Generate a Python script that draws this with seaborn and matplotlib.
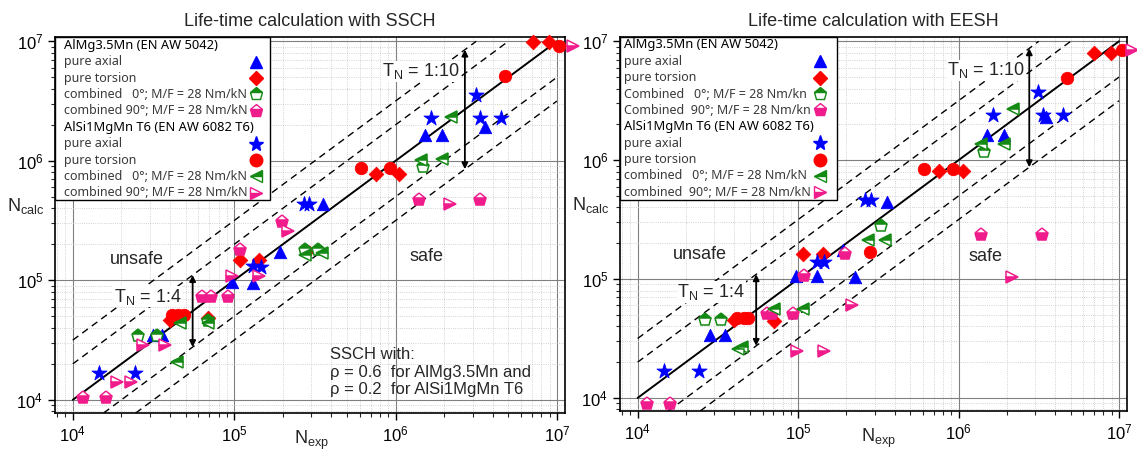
"""
Life-time calculation: N_calc against N_exp for SSCH and EESH

Two log-log scatter panels with the 1:4 and 1:10 scatter bands.
"""

## Import packages
import numpy as np
import matplotlib
matplotlib.use('Agg')
import matplotlib.pyplot as plt
import matplotlib.ticker as mticker
from matplotlib.patches import Rectangle
import seaborn as sns


## Data (cycles)
# SSCH panel - AlMg3.5Mn
ssch_almg_axial_x = [3.57e6, 1.53e6, 1.93e6, 3.53e5, 1.91e5, 1.31e5, 9.7e4, 3.15e4, 3.56e4]
ssch_almg_axial_y = [1.9e6, 1.65e6, 1.65e6, 4.35e5, 1.74e5, 9.5e4, 9.7e4, 3.5e4, 3.5e4]
ssch_almg_tors_x = [7.06e6, 8.87e6, 7.6e5, 1.05e6, 1.09e5, 1.42e5, 4.0e4, 6.92e4]
ssch_almg_tors_y = [9.95e6, 9.95e6, 7.8e5, 7.8e5, 1.49e5, 1.49e5, 4.67e4, 4.83e4]
ssch_almg_c0_x = [1.47e6, 3.31e5, 2.76e5, 2.55e4, 3.31e4, 6.9e4]
ssch_almg_c0_y = [8.95e5, 1.8e5, 1.8e5, 3.39e4, 3.39e4, 4.58e4]
ssch_almg_c90_x = [1.09e5, 1.98e5, 6.3e4, 7.2e4, 9.2e4, 1.15e4, 1.6e4, 1.4e6, 3.33e6]
ssch_almg_c90_y = [1.8e5, 3.05e5, 7.3e4, 7.3e4, 7.3e4, 1.03e4, 1.03e4, 4.72e5, 4.72e5]
# SSCH panel - AlSi1MgMn T6
ssch_alsi_axial_x = [3.17e6, 1.65e6, 3.34e6, 4.49e6, 2.69e5, 2.92e5, 1.31e5, 1.47e5, 1.45e4, 2.43e4]
ssch_alsi_axial_y = [3.52e6, 2.3e6, 2.3e6, 2.3e6, 4.35e5, 4.35e5, 1.33e5, 1.3e5, 1.69e4, 1.69e4]
ssch_alsi_tors_x = [1.03e7, 4.78e6, 6.07e5, 9.18e5, 2.79e5, 4.1e4, 4.5e4, 4.9e4]
ssch_alsi_tors_y = [9.05e6, 5.14e6, 8.7e5, 8.7e5, 1.77e5, 5.1e4, 5.1e4, 5.1e4]
ssch_alsi_c0_x = [2.22e6, 1.43e6, 1.95e6, 2.76e5, 3.51e5, 4.62e4, 6.9e4, 4.4e4]
ssch_alsi_c0_y = [2.32e6, 1.01e6, 1.03e6, 1.63e5, 1.69e5, 4.38e4, 4.4e4, 2.09e4]
ssch_alsi_c90_x = [1.25e7, 2.16e6, 2.17e5, 1.43e5, 9.7e4, 2.71e4, 3.73e4, 1.87e4, 2.29e4]
ssch_alsi_c90_y = [9.05e6, 4.37e5, 2.61e5, 1.08e5, 1.08e5, 2.88e4, 2.88e4, 1.42e4, 1.42e4]

# EESH panel - AlMg3.5Mn
eesh_almg_axial_x = [3.53e6, 1.51e6, 1.93e6, 3.56e5, 1.91e5, 2.26e5, 9.7e4, 1.31e5, 2.84e4, 3.52e4]
eesh_almg_axial_y = [2.31e6, 1.62e6, 1.62e6, 4.47e5, 1.75e5, 1.05e5, 1.06e5, 1.06e5, 3.38e4, 3.38e4]
eesh_almg_tors_x = [7.0e6, 8.87e6, 7.51e5, 1.06e6, 1.08e5, 1.42e5, 3.96e4, 7.03e4]
eesh_almg_tors_y = [8.0e6, 8.0e6, 8.13e5, 8.1e5, 1.61e5, 1.61e5, 4.52e4, 4.47e4]
eesh_almg_c0_x = [1.44e6, 3.31e5, 2.62e4, 3.33e4]
eesh_almg_c0_y = [1.17e6, 2.79e5, 4.52e4, 4.52e4]
eesh_almg_c90_x = [1.38e6, 3.29e6, 1.96e5, 1.09e5, 6.4e4, 6.9e4, 9.35e4, 1.15e4, 1.59e4]
eesh_almg_c90_y = [2.34e5, 2.34e5, 1.64e5, 1.06e5, 5.05e4, 5.05e4, 5.05e4, 8.85e3, 8.85e3]
# EESH panel - AlSi1MgMn T6
eesh_alsi_axial_x = [3.15e6, 1.63e6, 3.34e6, 4.45e6, 2.61e5, 2.84e5, 1.31e5, 1.46e5, 1.46e4, 2.4e4]
eesh_alsi_axial_y = [3.75e6, 2.42e6, 2.42e6, 2.39e6, 4.61e5, 4.61e5, 1.4e5, 1.4e5, 1.69e4, 1.69e4]
eesh_alsi_tors_x = [1.04e7, 4.73e6, 6.08e5, 9.22e5, 2.8e5, 4.16e4, 4.57e4, 4.9e4]
eesh_alsi_tors_y = [8.4e6, 4.92e6, 8.51e5, 8.5e5, 1.68e5, 4.73e4, 4.73e4, 4.73e4]
eesh_alsi_c0_x = [2.17e6, 1.38e6, 1.93e6, 2.73e5, 3.47e5, 7.03e4, 1.08e5, 4.47e4, 4.24e4]
eesh_alsi_c0_y = [2.72e6, 1.38e6, 1.38e6, 2.13e5, 2.13e5, 5.56e4, 5.56e4, 2.7e4, 2.58e4]
eesh_alsi_c90_x = [1.2e7, 2.16e6, 2.16e5, 9.8e4, 1.44e5]
eesh_alsi_c90_y = [8.5e6, 1.05e5, 6.1e4, 2.48e4, 2.48e4]

# Scatter band factors (T_N = 1:4 -> 2, T_N = 1:10 -> sqrt(10))
band_factors = [2.0, np.sqrt(10)]
band_labels = ["1:4", "1:10"]

# Legend labels
ssch_labels = ["AlMg3.5Mn (EN AW 5042)", "pure axial", "pure torsion",
               "combined   0°; M/F = 28 Nm/kN", "combined 90°; M/F = 28 Nm/kN",
               "AlSi1MgMn T6 (EN AW 6082 T6)", "pure axial", "pure torsion",
               "combined   0°; M/F = 28 Nm/kN", "combined 90°; M/F = 28 Nm/kN"]
eesh_labels = ["AlMg3.5Mn (EN AW 5042)", "pure axial", "pure torsion",
               "Combined   0°; M/F = 28 Nm/kn", "Combined  90°; M/F = 28 Nm/kn",
               "AlSi1MgMn T6 (EN AW 6082 T6)", "pure axial", "pure torsion",
               "combined   0°; M/F = 28 Nm/kN", "combined  90°; M/F = 28 Nm/kN"]


## Define parameters for figure
BLUE = '#0000FF'
RED = '#FF0000'
GREEN = '#148A14'
PINK = '#F01C8C'

n_lo, n_hi = 1e4, 1e7
xlim = (10**3.89, 10**7.05)
ylim = (10**3.89, 10**7.036)

big = 13
medium = 12
small = 9.0
small_bold = 9.3

# Marker style per series (marker, colour, size, fillstyle)
styles = {'almg_axial': ('^', BLUE, 9, 'full'),
          'almg_tors': ('D', RED, 7.5, 'full'),
          'almg_c0': ('p', GREEN, 9.5, 'top'),
          'almg_c90': ('p', PINK, 9.5, 'bottom'),
          'alsi_axial': ('*', BLUE, 11, 'full'),
          'alsi_tors': ('o', RED, 9, 'full'),
          'alsi_c0': ('<', GREEN, 9, 'top'),
          'alsi_c90': ('>', PINK, 9, 'bottom')}
legend_keys = [None, 'almg_axial', 'almg_tors', 'almg_c0', 'almg_c90',
               None, 'alsi_axial', 'alsi_tors', 'alsi_c0', 'alsi_c90']

sns.set_theme(style='ticks')
plt.rcParams['font.family'] = ['Liberation Sans', 'DejaVu Sans']
plt.rcParams['mathtext.default'] = 'regular'


def draw_legend(ax, labels, box_right, box_bottom, text_x, marker_x, row_top, row_step):
    ax.add_patch(Rectangle((0, box_bottom), box_right, 1 - box_bottom, transform=ax.transAxes,
                           facecolor='white', edgecolor='black', lw=1.0, zorder=8, clip_on=False))
    for i, (lab, key) in enumerate(zip(labels, legend_keys)):
        y = row_top - i * row_step
        if key is None:
            ax.text(text_x, y, lab, transform=ax.transAxes, fontsize=small_bold, family='Noto Sans',
                    fontweight='bold', color='black', ha='left', va='center', zorder=9)
            continue
        ax.text(text_x, y, lab, transform=ax.transAxes, fontsize=small, family='Noto Sans',
                color='#3a3a3a', ha='left', va='center', zorder=9)
        m, c, ms, fs = styles[key]
        ax.plot([marker_x], [y], transform=ax.transAxes, ls='none', marker=m, ms=ms, fillstyle=fs,
                mfc=c, mfcalt='white', mec=c, mew=1, zorder=9, clip_on=False)


def draw_panel(ax, series, title, arrow_x, tn_text_pos, unsafe_pos, safe_pos):
    ax.set_xscale('log')
    ax.set_yscale('log')
    ax.set_xlim(*xlim)
    ax.set_ylim(*ylim)

    # Grid lines
    ax.grid(which='major', color='#808080', lw=0.8, ls='-', zorder=0)
    ax.grid(which='minor', color='#c4c4c4', lw=0.6, ls=':', zorder=0)
    for axis in (ax.xaxis, ax.yaxis):
        axis.set_major_locator(mticker.LogLocator(base=10, numticks=10))
        axis.set_minor_locator(mticker.LogLocator(base=10, subs=range(2, 10), numticks=20))
        axis.set_minor_formatter(mticker.NullFormatter())
    ax.tick_params(which='major', direction='out', length=5, width=1, labelsize=medium, colors='black')
    ax.tick_params(which='minor', direction='out', length=3, width=0.8)
    for sp in ax.spines.values():
        sp.set_color('black')
        sp.set_linewidth(1.2)

    # 1:1 line and scatter bands
    ax.plot([n_lo, n_hi], [n_lo, n_hi], color='black', lw=1.4, zorder=2)
    for k in band_factors:
        ax.plot([n_lo, n_hi / k], [n_lo * k, n_hi], color='black', lw=1, ls=(0, (5, 3.5)), zorder=2)
        ax.plot([ylim[0] * k, n_hi], [ylim[0], n_hi / k], color='black', lw=1, ls=(0, (5, 3.5)), zorder=2)

    # Band arrows and labels
    for xa, k, lab, (tx, ty) in zip(arrow_x, band_factors, band_labels, tn_text_pos):
        ax.annotate('', xy=(xa, xa * k), xytext=(xa, xa / k),
                    arrowprops=dict(arrowstyle='<|-|>', color='black', lw=1.3,
                                    mutation_scale=9, shrinkA=0, shrinkB=0), zorder=3)
        ax.text(tx, ty, r'T$_{N}$ = ' + lab, fontsize=big, ha='left', va='center', zorder=3,
                bbox=dict(facecolor='white', edgecolor='none', pad=0.5))

    ax.text(*unsafe_pos, "unsafe", fontsize=big, ha='center', va='center')
    ax.text(*safe_pos, "safe", fontsize=big, ha='center', va='center')

    # Full markers with seaborn
    for key, s in [('almg_axial', 80), ('almg_tors', 55), ('alsi_axial', 130), ('alsi_tors', 80)]:
        m, c, ms, fs = styles[key]
        sns.scatterplot(x=series[key][0], y=series[key][1], ax=ax, marker=m, color=c, s=s,
                        edgecolor=c, linewidth=0.6, zorder=5, clip_on=False)

    # Half-filled markers
    for key in ['almg_c0', 'almg_c90', 'alsi_c0', 'alsi_c90']:
        m, c, ms, fs = styles[key]
        ax.plot(series[key][0], series[key][1], ls='none', marker=m, ms=ms, fillstyle=fs,
                mfc=c, mfcalt='white', mec=c, mew=1.1, zorder=5, clip_on=False)

    ax.set_title(title, fontsize=big, pad=8)
    ax.set_xlabel(r'N$_{exp}$', fontsize=big, va='top')
    ax.set_ylabel(r'N$_{calc}$', fontsize=big, rotation=0, ha='center', va='center')
    ax.yaxis.set_label_coords(-0.057, 0.55)


## Create figure
fig = plt.figure(figsize=(11.37, 4.5), dpi=100)
ax1 = fig.add_axes([0.0484, 0.0822, 0.4485, 0.8356])
ax2 = fig.add_axes([0.5453, 0.0867, 0.4459, 0.8310])

ssch = {'almg_axial': (ssch_almg_axial_x, ssch_almg_axial_y),
        'almg_tors': (ssch_almg_tors_x, ssch_almg_tors_y),
        'almg_c0': (ssch_almg_c0_x, ssch_almg_c0_y),
        'almg_c90': (ssch_almg_c90_x, ssch_almg_c90_y),
        'alsi_axial': (ssch_alsi_axial_x, ssch_alsi_axial_y),
        'alsi_tors': (ssch_alsi_tors_x, ssch_alsi_tors_y),
        'alsi_c0': (ssch_alsi_c0_x, ssch_alsi_c0_y),
        'alsi_c90': (ssch_alsi_c90_x, ssch_alsi_c90_y)}
eesh = {'almg_axial': (eesh_almg_axial_x, eesh_almg_axial_y),
        'almg_tors': (eesh_almg_tors_x, eesh_almg_tors_y),
        'almg_c0': (eesh_almg_c0_x, eesh_almg_c0_y),
        'almg_c90': (eesh_almg_c90_x, eesh_almg_c90_y),
        'alsi_axial': (eesh_alsi_axial_x, eesh_alsi_axial_y),
        'alsi_tors': (eesh_alsi_tors_x, eesh_alsi_tors_y),
        'alsi_c0': (eesh_alsi_c0_x, eesh_alsi_c0_y),
        'alsi_c90': (eesh_alsi_c90_x, eesh_alsi_c90_y)}

## PLOT 1 - SSCH
draw_panel(ax1, ssch, "Life-time calculation with SSCH",
           arrow_x=[5.53e4, 2.69e6],
           tn_text_pos=[(1.8e4, 7.3e4), (8.3e5, 5.6e6)],
           unsafe_pos=(2.5e4, 1.5e5), safe_pos=(1.55e6, 1.58e5))
draw_legend(ax1, ssch_labels, box_right=0.4216, box_bottom=0.566,
            text_x=0.018, marker_x=0.394, row_top=0.978, row_step=0.0436)
ax1.xaxis.set_label_coords(0.502, -0.042)

# Note on the SSCH panel
ax1.text(3.9e5, 1.71e4, "SSCH with:\nρ = 0.6  for AlMg3.5Mn and\nρ = 0.2  for AlSi1MgMn T6",
         fontsize=medium, ha='left', va='center', linespacing=1.2, zorder=3)

## PLOT 2 - EESH
draw_panel(ax2, eesh, "Life-time calculation with EESH",
           arrow_x=[5.48e4, 2.76e6],
           tn_text_pos=[(1.77e4, 7.8e4), (8.5e5, 5.7e6)],
           unsafe_pos=(2.45e4, 1.62e5), safe_pos=(1.48e6, 1.56e5))
draw_legend(ax2, eesh_labels, box_right=0.428, box_bottom=0.564,
            text_x=0.008, marker_x=0.394, row_top=0.979, row_step=0.0438)
ax2.xaxis.set_label_coords(0.509, -0.042)

# Save figure
fig.savefig("out.png", dpi=100)
